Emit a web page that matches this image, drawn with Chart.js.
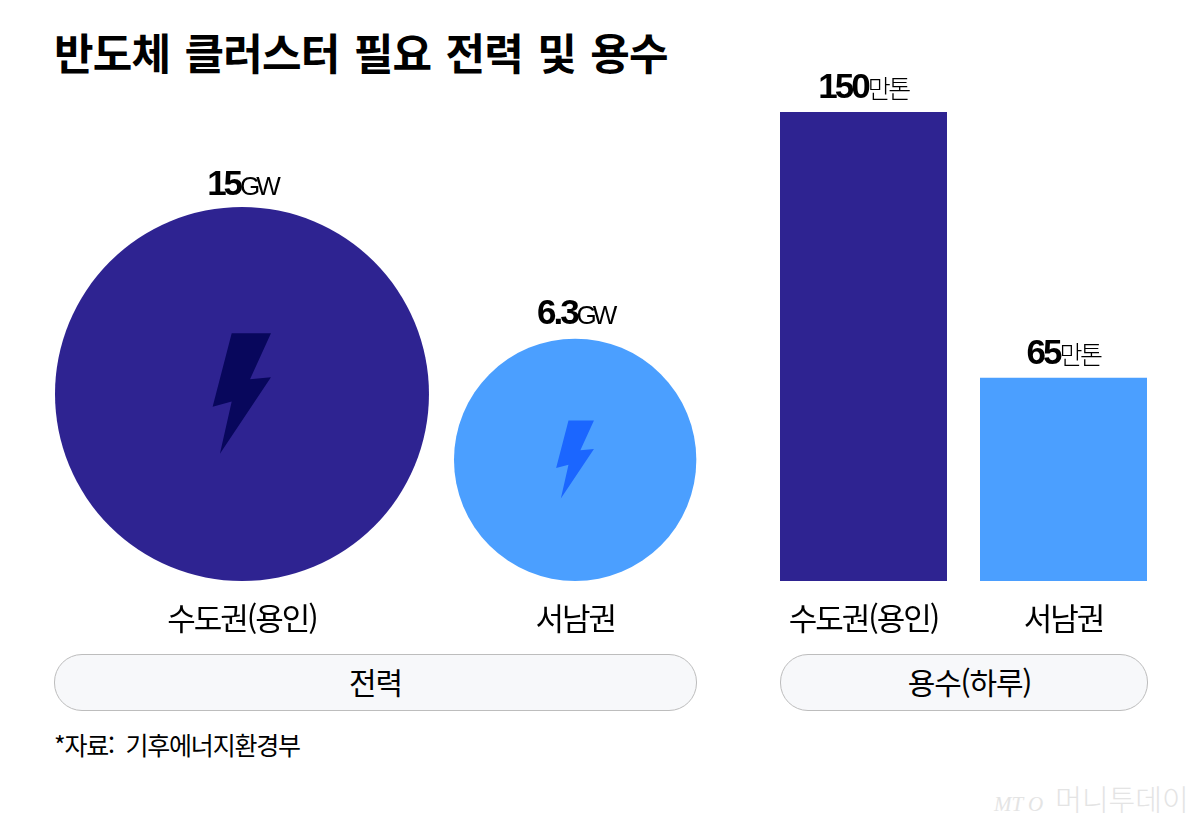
<!DOCTYPE html>
<html lang="ko">
<head>
<meta charset="utf-8">
<title>반도체 클러스터 필요 전력 및 용수</title>
<script src="https://cdn.jsdelivr.net/npm/chart.js@4"></script>
<style>
  html, body { margin: 0; padding: 0; background: #fff; overflow: hidden; }
  body { width: 1202px; height: 825px; position: relative; font-family: "Noto Sans CJK KR", sans-serif; color: #000; }
  canvas { position: absolute; top: 0; }
  #powerChart { left: 0; }
  #waterChart { left: 730px; }
  h1 { position: absolute; left: 54px; top: 21px; margin: 0; font-size: 43px; font-weight: 700; line-height: 60px; letter-spacing: -.8px; word-spacing: 3px; white-space: nowrap; }
  .pill { position: absolute; top: 654px; height: 55px; line-height: 53px; box-sizing: content-box; border: 1px solid #bdbdbd; border-radius: 28px; background: #f7f8fa; text-align: center; font-size: 30px; letter-spacing: -1.2px; }
  #pillPower { left: 54px; width: 641px; }
  #pillWater { left: 780px; width: 366px; text-indent: 11px; }
  #source { position: absolute; left: 54px; top: 726px; font-size: 25px; line-height: 36px; letter-spacing: -1.2px; white-space: pre; }
  #mark { position: absolute; left: 994px; top: 782px; font-size: 29px; font-weight: 300; line-height: 32px; color: #e4e4e4; white-space: nowrap; }
  #mark i { font-family: "Liberation Serif", serif; font-size: 21px; margin-right: 12px; }
</style>
</head>
<body>
<h1>반도체 클러스터 필요 전력 및 용수</h1>
<canvas id="powerChart" width="730" height="651"></canvas>
<canvas id="waterChart" width="472" height="651"></canvas>
<div class="pill" id="pillPower">전력</div>
<div class="pill" id="pillWater">용수(하루)</div>
<div id="source">*자료:  기후에너지환경부</div>
<div id="mark"><i>MT O</i>머니투데이</div>
<script>
const powerLabels = ["수도권(용인)", "서남권"];
const powerValues = [15, 6.3];
const powerValueText = ["15", "6.3"];
const powerUnit = "GW";

const waterLabels = ["수도권(용인)", "서남권"];
const waterValues = [150, 65];
const waterUnit = "만톤";

const colors = ["#2e2391", "#4b9fff"];
const boltColors = ["#08075c", "#1b66ff"];

// lightning bolt, relative to circle centre, in circle radii
const bolt = [[-.055, -.325], [.155, -.325], [.043, -.079], [.155, -.09], [-.118, .32], [-.055, .04], [-.157, .068]];

const plotBottom = 581;
const tickFont = { family: "'Noto Sans CJK KR'", size: 31, weight: "400" };

// area of the circle follows the value
const radii = powerValues.map(v => 48.28 * Math.sqrt(v));
const centers = [55 + radii[0], 55 + radii[0] * 2 + 25 + radii[1]];

const spacing = {
  id: "spacing",
  beforeDraw(chart) { chart.ctx.letterSpacing = "-2px"; }
};

const bolts = {
  id: "bolts",
  afterDatasetsDraw(chart) {
    const ctx = chart.ctx;
    chart.getDatasetMeta(0).data.forEach((el, i) => {
      const r = radii[i];
      ctx.save();
      ctx.fillStyle = boltColors[i];
      ctx.beginPath();
      bolt.forEach(p => ctx.lineTo(el.x + p[0] * r, el.y + p[1] * r));
      ctx.closePath();
      ctx.fill();
      ctx.restore();
    });
  }
};

// number in bold, unit in thin, together centred over the mark
const valueLabels = {
  id: "valueLabels",
  afterDatasetsDraw(chart, args, opts) {
    const ctx = chart.ctx;
    chart.getDatasetMeta(0).data.forEach((el, i) => {
      const top = opts.round ? el.y - radii[i] : el.y;
      const num = opts.texts[i];
      ctx.save();
      ctx.textBaseline = "alphabetic";
      ctx.fillStyle = "#000";
      ctx.letterSpacing = "-3px";
      ctx.font = "bold 35px 'Liberation Sans'";
      const w1 = ctx.measureText(num).width;
      ctx.letterSpacing = opts.unitSpacing;
      ctx.font = opts.unitFont;
      const w2 = ctx.measureText(opts.unit).width;
      const x = el.x - (w1 + w2) / 2;
      const y = top - opts.gaps[i];
      ctx.letterSpacing = "-3px";
      ctx.font = "bold 35px 'Liberation Sans'";
      ctx.fillText(num, x, y);
      ctx.letterSpacing = opts.unitSpacing;
      ctx.font = opts.unitFont;
      ctx.fillText(opts.unit, x + w1, y);
      ctx.restore();
    });
  }
};

const fixAxisHeight = s => { s.height = 651 - plotBottom; };

new Chart(document.getElementById("powerChart"), {
  type: "bubble",
  data: {
    datasets: [{
      data: powerValues.map((v, i) => ({ x: centers[i], y: radii[i], r: radii[i] })),
      backgroundColor: colors,
      borderWidth: 0
    }]
  },
  options: {
    responsive: false,
    animation: false,
    clip: false,
    layout: { padding: 0, autoPadding: false },
    plugins: {
      legend: { display: false },
      tooltip: { enabled: false },
      valueLabels: { texts: powerValueText, unit: powerUnit, gaps: [12, 15], round: true, unitSpacing: "-4px", unitFont: "300 26px 'Liberation Sans'" }
    },
    scales: {
      x: {
        type: "linear", min: 0, max: 730,
        grid: { display: false }, border: { display: false },
        afterFit: fixAxisHeight,
        afterBuildTicks: s => { s.ticks = centers.map(c => ({ value: c })); },
        ticks: {
          autoSkip: false, maxRotation: 0, padding: 11, color: "#000", font: tickFont,
          callback: (v, i) => powerLabels[i]
        }
      },
      y: { display: false, min: 0, max: plotBottom }
    }
  },
  plugins: [spacing, bolts, valueLabels]
});

new Chart(document.getElementById("waterChart"), {
  type: "bar",
  data: {
    labels: waterLabels,
    datasets: [{
      data: waterValues,
      backgroundColor: colors,
      barPercentage: .835,
      categoryPercentage: 1
    }]
  },
  options: {
    responsive: false,
    animation: false,
    layout: { padding: { top: 112, left: 33.5, right: 38.5 } },
    plugins: {
      legend: { display: false },
      tooltip: { enabled: false },
      valueLabels: { texts: waterValues.map(String), unit: waterUnit, gaps: [14, 14], round: false, unitSpacing: "-2.5px", unitFont: "300 25px 'Noto Sans CJK KR'" }
    },
    scales: {
      x: {
        grid: { display: false }, border: { display: false },
        afterFit: fixAxisHeight,
        ticks: { autoSkip: false, maxRotation: 0, padding: 11, color: "#000", font: tickFont }
      },
      y: { display: false, min: 0, max: 150 }
    }
  },
  plugins: [spacing, valueLabels]
});
</script>
</body>
</html>
